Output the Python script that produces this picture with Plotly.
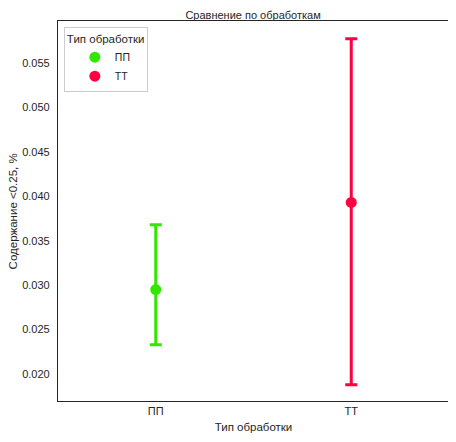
import plotly.graph_objects as go

# %%
groups = ["ПП", "ТТ"]
means = [0.0295, 0.0393]
upper = [0.0368, 0.0577]
lower = [0.0233, 0.0188]
colors = ["#33e600", "#ff0040"]

# %%
fig = go.Figure()

for g, m, hi, lo, c in zip(groups, means, upper, lower, colors):
    fig.add_trace(
        go.Scatter(
            x=[g],
            y=[m],
            name=g,
            mode="markers",
            marker=dict(color=c, size=11),
            error_y=dict(
                type="data",
                symmetric=False,
                array=[hi - m],
                arrayminus=[m - lo],
                color=c,
                thickness=3,
                width=6,
            ),
        )
    )

fig.layout.font.family = "Liberation Sans"

# page body has an 8px margin, so the figure is a bit smaller than the window
fig.update_layout(
    width=448,
    height=434,
    margin=dict(l=50, r=7, t=13, b=41),
    paper_bgcolor="white",
    plot_bgcolor="white",
    font=dict(size=11, color="#262626"),
    title=dict(
        text="Сравнение по обработкам",
        x=0.547,
        xanchor="center",
        yref="paper",
        y=1,
        yanchor="bottom",
        pad=dict(t=0, b=2),
        font=dict(size=11, color="#262626"),
    ),
    legend=dict(
        title=dict(text="Тип обработки", side="top", font=dict(size=11.5)),
        x=0.015,
        y=0.985,
        xanchor="left",
        yanchor="top",
        bordercolor="#cccccc",
        borderwidth=1,
        bgcolor="white",
        font=dict(size=10.5),
        itemwidth=30,
        indentation=10,
        tracegroupgap=0,
    ),
    # y title as annotation so it can sit further left than the axis title allows
    annotations=[
        dict(
            text="Содержание <0.25, %",
            textangle=-90,
            xref="paper",
            yref="paper",
            x=-0.114,
            y=0.5,
            xanchor="center",
            yanchor="middle",
            showarrow=False,
            font=dict(size=11.5, color="#262626"),
        )
    ],
    xaxis=dict(
        title=dict(text="Тип обработки", standoff=6, font=dict(size=11.5)),
        type="category",
        range=[-0.5, 1.5],
        showline=True,
        mirror=True,
        linecolor="#262626",
        linewidth=1.2,
        showgrid=False,
        ticks="",
        zeroline=False,
        automargin=False,
    ),
    yaxis=dict(
        range=[0.01697, 0.0597],
        tickvals=[0.020, 0.025, 0.030, 0.035, 0.040, 0.045, 0.050, 0.055],
        tickformat=".3f",
        ticklabelstandoff=5,
        showline=True,
        mirror=True,
        linecolor="#262626",
        linewidth=1.2,
        showgrid=False,
        ticks="",
        zeroline=False,
        automargin=False,
    ),
)

fig.write_html("out.html")
